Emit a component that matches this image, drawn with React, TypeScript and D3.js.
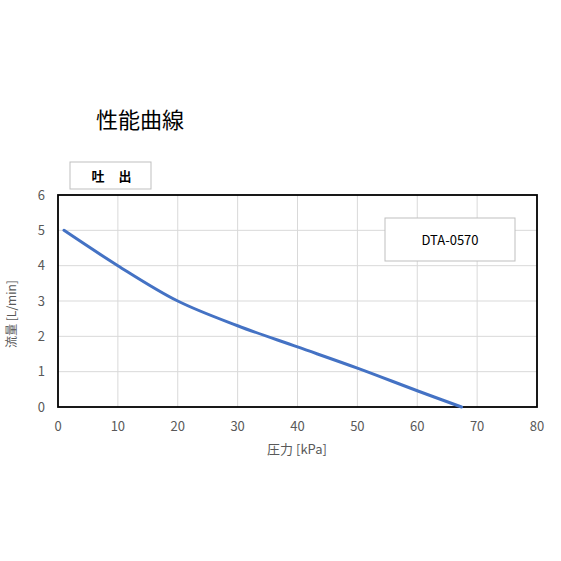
import React, { useEffect, useRef } from 'react';
import * as d3 from 'd3';

const pressure = [1, 10, 20, 30, 40, 50, 60, 67.4];
const flow = [5, 4, 3, 2.3, 1.7, 1.1, 0.46, 0];
const xTicks = [0, 10, 20, 30, 40, 50, 60, 70, 80];
const yTicks = [0, 1, 2, 3, 4, 5, 6];

const App: React.FC = () => {
  const svgRef = useRef<SVGSVGElement>(null);

  useEffect(() => {
    if (!svgRef.current) return;
    const width = 561;
    const height = 561;
    const font = '"Noto Sans CJK JP", "Open Sans", sans-serif';

    const svg = d3.select(svgRef.current)
      .attr('viewBox', `0 0 ${width} ${height}`)
      .html('');

    svg.append('rect').attr('width', width).attr('height', height).attr('fill', '#fff');

    const x = d3.scaleLinear().domain([0, 80]).range([58, 537]);
    const y = d3.scaleLinear().domain([0, 6]).range([407, 195]);

    // title
    svg.append('text')
      .attr('x', 96).attr('y', 128)
      .attr('font-family', font).attr('font-size', 22).attr('fill', '#000')
      .text('性能曲線');

    // discharge box
    svg.append('rect')
      .attr('x', 70).attr('y', 162).attr('width', 81).attr('height', 27)
      .attr('fill', '#fff').attr('stroke', '#bfbfbf');
    svg.append('text')
      .attr('x', 98).attr('y', 180.5).attr('text-anchor', 'middle')
      .attr('font-family', font).attr('font-size', 13).attr('font-weight', 'bold')
      .text('吐');
    svg.append('text')
      .attr('x', 125).attr('y', 180.5).attr('text-anchor', 'middle')
      .attr('font-family', font).attr('font-size', 13).attr('font-weight', 'bold')
      .text('出');

    // grid
    svg.append('g').selectAll('line').data(xTicks.slice(1, -1)).enter().append('line')
      .attr('x1', d => x(d)).attr('x2', d => x(d)).attr('y1', y(0)).attr('y2', y(6))
      .attr('stroke', '#d9d9d9').attr('stroke-width', 1);
    svg.append('g').selectAll('line').data(yTicks.slice(1, -1)).enter().append('line')
      .attr('x1', x(0)).attr('x2', x(80)).attr('y1', d => y(d)).attr('y2', d => y(d))
      .attr('stroke', '#d9d9d9').attr('stroke-width', 1);

    // plot border
    svg.append('rect')
      .attr('x', x(0)).attr('y', y(6)).attr('width', x(80) - x(0)).attr('height', y(0) - y(6))
      .attr('fill', 'none').attr('stroke', '#000').attr('stroke-width', 1.8);

    // tick labels
    svg.append('g').selectAll('text').data(xTicks).enter().append('text')
      .attr('x', d => x(d)).attr('y', 431).attr('text-anchor', 'middle')
      .attr('font-family', font).attr('font-size', 13).attr('fill', '#595959')
      .text(d => d);
    svg.append('g').selectAll('text').data(yTicks).enter().append('text')
      .attr('x', 45).attr('y', d => y(d) + 4.5).attr('text-anchor', 'end')
      .attr('font-family', font).attr('font-size', 13).attr('fill', '#595959')
      .text(d => d);

    // axis titles
    svg.append('text')
      .attr('x', 297).attr('y', 454).attr('text-anchor', 'middle')
      .attr('font-family', font).attr('font-size', 13).attr('fill', '#595959')
      .text('圧力 [kPa]');
    svg.append('text')
      .attr('transform', `translate(16, 314) rotate(-90)`)
      .attr('text-anchor', 'middle')
      .attr('font-family', font).attr('font-size', 12).attr('fill', '#595959')
      .text('流量 [L/min]');

    // curve
    const pts: [number, number][] = pressure.map((p, i) => [p, flow[i]]);
    const line = d3.line<[number, number]>()
      .x(d => x(d[0])).y(d => y(d[1]))
      .curve(d3.curveCatmullRom.alpha(0.5));
    svg.append('path')
      .attr('d', line(pts))
      .attr('fill', 'none').attr('stroke', '#4472c4').attr('stroke-width', 3)
      .attr('stroke-linecap', 'round');

    // legend box
    svg.append('rect')
      .attr('x', 385).attr('y', 218).attr('width', 130).attr('height', 43)
      .attr('fill', '#fff').attr('stroke', '#bfbfbf');
    svg.append('text')
      .attr('x', 450).attr('y', 244.5).attr('text-anchor', 'middle')
      .attr('font-family', font).attr('font-size', 13).attr('fill', '#000')
      .text('DTA-0570');
  }, []);

  return (
    <svg ref={svgRef} width={561} height={561}
      style={{ position: 'absolute', left: 0, top: 0, display: 'block' }} />
  );
};

export default App;
